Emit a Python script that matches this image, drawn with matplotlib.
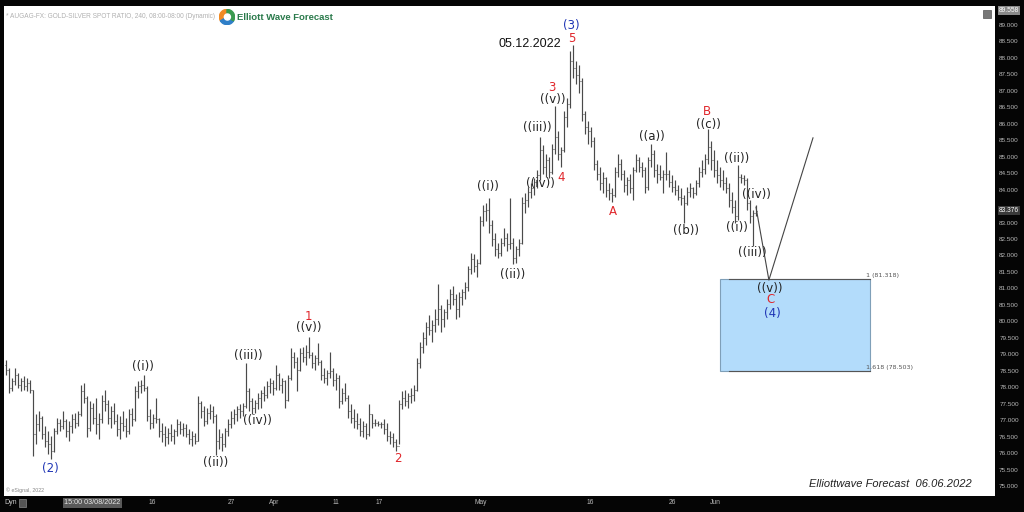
import matplotlib
matplotlib.use("Agg")
import matplotlib.pyplot as plt
from matplotlib.patches import Rectangle, Wedge
import matplotlib.transforms as mtrans

# ---------------- data: 4h bars as (high, low, close) ----------------
first_open = 78.70
wave2_bars = [
    (78.85, 78.40, 78.55), (78.60, 77.85, 78.00), (78.30, 77.90, 78.20), (78.60, 78.10, 78.40),
    (78.45, 78.00, 78.10), (78.30, 77.90, 78.20), (78.35, 77.95, 78.05), (78.30, 77.90, 78.15),
    (78.25, 77.85, 77.95), (77.95, 75.95, 76.60), (77.20, 76.30, 76.90), (77.30, 76.70, 77.10),
    (77.15, 76.45, 76.60), (76.85, 76.20, 76.40), (76.70, 76.00, 76.30), (76.55, 75.85, 76.10),
]
wave_i_bars = [
    (76.80, 76.05, 76.70), (77.10, 76.60, 76.95), (77.05, 76.70, 76.85), (77.30, 76.75, 77.00),
    (77.05, 76.50, 76.70), (77.00, 76.40, 76.85), (77.20, 76.65, 77.05), (77.25, 76.80, 76.95),
    (77.30, 76.85, 77.20), (78.10, 77.15, 77.90), (78.15, 77.55, 77.70), (77.75, 76.50, 76.80),
    (77.60, 76.70, 77.40), (77.55, 76.90, 77.10), (77.70, 76.60, 76.90), (77.25, 76.45, 77.05),
    (77.80, 76.95, 77.60), (77.95, 77.30, 77.50), (77.65, 76.90, 77.10), (77.45, 76.80, 77.30),
    (77.55, 76.90, 77.00), (77.20, 76.55, 76.75), (77.15, 76.45, 76.95), (77.30, 76.70, 76.85),
    (77.10, 76.50, 76.70), (77.35, 76.60, 77.20), (77.40, 76.85, 77.05), (78.05, 77.00, 77.90),
    (78.20, 77.70, 78.05), (78.25, 77.85, 78.10), (78.40, 77.90, 78.00),
]
wave_ii_bars = [
    (78.05, 77.00, 77.15), (77.35, 76.75, 76.95), (77.20, 76.80, 77.10), (77.70, 76.95, 77.05),
    (77.10, 76.50, 76.70), (76.95, 76.35, 76.60), (76.85, 76.25, 76.50), (76.80, 76.30, 76.65),
    (76.90, 76.40, 76.55), (76.75, 76.30, 76.70), (77.05, 76.55, 76.90), (77.00, 76.60, 76.75),
    (76.95, 76.55, 76.80), (76.90, 76.50, 76.60), (76.75, 76.30, 76.45), (76.70, 76.25, 76.55),
    (76.65, 76.30, 76.40), (77.75, 76.40, 77.55), (77.60, 77.10, 77.30), (77.45, 76.85, 77.00),
    (77.40, 76.90, 77.25), (77.50, 77.05, 77.30), (77.45, 76.95, 77.15), (77.20, 75.98, 76.40),
]
wave_iii_v_bars = [
    (76.75, 76.15, 76.50), (76.65, 76.10, 76.30), (76.80, 76.20, 76.70), (77.05, 76.55, 76.90),
    (77.30, 76.80, 77.10), (77.35, 76.90, 77.20), (77.45, 77.00, 77.35), (77.50, 77.10, 77.30),
    (77.55, 77.15, 77.45), (78.75, 77.40, 77.90), (78.00, 77.30, 77.60), (77.70, 77.20, 77.40),
    (77.65, 77.25, 77.55), (77.85, 77.35, 77.70), (77.95, 77.40, 77.85), (78.05, 77.60, 77.80),
    (78.20, 77.70, 78.05), (78.30, 77.85, 78.15), (78.25, 77.80, 78.00), (78.70, 77.95, 78.40),
    (78.45, 77.95, 78.10), (78.30, 77.85, 78.20), (78.25, 77.40, 77.65), (78.40, 77.60, 78.30),
    (79.20, 78.25, 78.95), (79.10, 78.60, 78.80), (78.95, 77.90, 78.55), (79.20, 78.50, 79.05),
    (79.25, 78.80, 78.95), (79.30, 78.70, 79.10), (79.55, 78.90, 79.00),
]
wave_two_bars = [
    (79.10, 78.60, 78.75), (79.00, 78.55, 78.90), (79.35, 78.70, 78.80), (78.85, 78.25, 78.40),
    (78.60, 78.15, 78.30), (78.55, 78.10, 78.45), (79.10, 78.30, 78.50), (78.60, 78.05, 78.25),
    (78.45, 77.95, 78.30), (78.40, 77.40, 77.60), (78.00, 77.50, 77.85), (78.15, 77.60, 77.70),
    (77.80, 77.10, 77.30), (77.50, 76.95, 77.10), (77.35, 76.80, 77.00), (77.25, 76.75, 76.90),
    (77.10, 76.55, 76.70), (77.00, 76.50, 76.85), (76.95, 76.45, 76.60), (77.50, 76.55, 77.20),
    (77.20, 76.80, 76.95), (77.05, 76.85, 76.95), (77.00, 76.85, 76.92), (76.98, 76.80, 76.90),
    (77.05, 76.60, 76.75), (76.95, 76.40, 76.55), (76.70, 76.30, 76.50), (76.65, 76.20, 76.35),
    (76.45, 76.10, 76.25),
]
wave_three_bars = [
    (77.65, 76.30, 77.50), (77.90, 77.35, 77.70), (77.95, 77.45, 77.60), (77.85, 77.40, 77.75),
    (78.00, 77.55, 77.80), (78.10, 77.60, 77.95), (78.90, 77.90, 78.75), (79.40, 78.60, 79.25),
    (79.70, 79.05, 79.50), (80.00, 79.30, 79.85), (80.20, 79.60, 79.75), (80.05, 79.40, 79.90),
    (80.40, 79.70, 80.10), (81.15, 79.90, 80.40), (80.50, 79.70, 80.10), (80.40, 79.85, 80.30),
    (80.70, 80.10, 80.55), (81.00, 80.40, 80.85), (81.10, 80.50, 80.70), (80.85, 80.10, 80.40),
    (80.90, 80.15, 80.75), (81.00, 80.50, 80.90), (81.20, 80.70, 81.05), (81.70, 80.95, 81.60),
    (82.10, 81.45, 81.90), (82.05, 81.50, 81.70), (81.90, 81.35, 81.80), (83.20, 81.75, 83.05),
    (83.55, 82.90, 83.35), (83.60, 83.05, 83.40), (83.75, 82.70, 82.95), (83.10, 82.30, 82.50),
    (82.70, 82.00, 82.20), (82.40, 81.95, 82.10), (82.55, 82.00, 82.40), (82.85, 82.30, 82.55),
    (82.70, 82.15, 82.35), (83.75, 82.20, 82.40), (82.55, 81.75, 81.95), (82.30, 81.80, 82.20),
    (82.50, 82.00, 82.40), (83.80, 82.35, 83.60), (83.90, 83.30, 83.70), (84.10, 83.50, 83.95),
    (84.20, 83.75, 84.05), (84.35, 83.85, 84.25), (84.60, 84.05, 84.45), (85.60, 84.30, 85.20),
    (85.35, 84.50, 84.70), (85.10, 84.40, 84.90), (85.00, 84.35, 84.55), (85.40, 84.50, 85.25),
    (86.55, 85.10, 85.60), (85.80, 84.90, 85.10), (85.30, 84.70, 85.20), (86.40, 85.15, 86.20),
    (86.80, 85.90, 86.60), (88.20, 86.50, 87.90), (88.40, 87.40, 87.70),
]
wave_four_bars = [
    (87.90, 87.20, 87.50), (87.80, 86.95, 87.30), (87.40, 86.10, 86.30), (86.40, 85.70, 85.90),
    (86.10, 85.40, 85.80), (85.90, 85.30, 85.50), (85.60, 84.60, 84.80), (84.90, 84.30, 84.50),
    (84.70, 84.00, 84.20), (84.55, 83.90, 84.35), (84.40, 83.80, 84.00), (84.20, 83.70, 83.90),
    (84.05, 83.65, 83.85), (84.70, 83.80, 84.55), (85.10, 84.40, 84.80), (84.95, 84.30, 84.50),
    (84.60, 83.95, 84.15), (84.40, 83.85, 84.30), (84.50, 83.90, 84.05), (84.70, 83.70, 84.60),
    (85.10, 84.55, 84.90), (85.00, 84.55, 84.70), (84.85, 84.40, 84.60), (84.70, 83.90, 84.10),
    (85.00, 84.00, 84.90), (85.40, 84.70, 85.10), (85.20, 84.40, 84.60), (84.80, 84.20, 84.50),
    (84.75, 84.30, 84.40), (84.60, 83.90, 84.50), (85.15, 84.30, 84.50), (84.60, 84.10, 84.25),
    (84.45, 83.95, 84.10), (84.30, 83.85, 84.00), (84.15, 83.70, 83.80), (84.05, 83.55, 83.75),
    (83.85, 83.00, 83.60), (84.10, 83.55, 83.95), (84.20, 83.80, 84.05), (84.10, 83.75, 83.90),
    (84.30, 83.85, 84.20), (84.70, 84.10, 84.55), (84.90, 84.40, 84.65), (85.10, 84.50, 84.95),
    (85.85, 84.80, 85.30), (85.50, 84.60, 84.90), (85.20, 84.40, 84.60), (84.90, 84.20, 84.45),
    (84.70, 84.10, 84.30), (84.60, 84.00, 84.20), (84.40, 83.90, 84.05), (84.20, 83.50, 83.70),
    (83.95, 83.30, 83.50), (83.70, 83.00, 83.20), (84.75, 83.10, 84.40), (84.50, 84.20, 84.35),
    (84.45, 84.15, 84.30), (84.35, 83.40, 83.60), (83.70, 83.00, 83.20), (83.40, 82.30, 83.30),
    (83.55, 83.20, 83.376),
]

# projected path of the last leg (bar index, price)
proj_x = [250, 254.3, 269]
proj_y = [83.48, 81.27, 85.58]

# target zone (Fibonacci extension)
zone_top = 81.318
zone_bottom = 78.503
zone_x0, zone_x1 = 238, 288

# time axis labels (bar index, text)
time_tick_pos = [48.7, 75, 89.3, 110, 124.3, 158.3, 194.7, 222.3, 236.3]
time_tick_labels = ["16", "27", "Apr", "11", "17", "May", "16", "26", "Jun"]

# price axis
price_ticks = [75 + 0.5 * k for k in range(29)]
last_price = 83.376
top_price = 89.558

# wave labels: (text, bar index, price, colour)
RED, BLUE, BLK = "#e0262b", "#1f35b5", "#222222"
wave_labels = [
    ("(3)", 188.3, 89.00, BLUE), ("5", 188.7, 88.58, RED), ("3", 182.0, 87.12, RED),
    ("((v))", 182.3, 86.73, BLK), ("((iii))", 177.0, 85.88, BLK), ("((iv))", 178.0, 84.21, BLK),
    ("4", 185.0, 84.39, RED), ("((i))", 160.7, 84.12, BLK), ("((ii))", 169.0, 81.45, BLK),
    ("1", 100.7, 80.18, RED), ("((v))", 101.0, 79.82, BLK), ("((iii))", 80.7, 78.97, BLK),
    ("((iv))", 83.7, 77.03, BLK), ("((i))", 45.7, 78.64, BLK), ("((ii))", 70.0, 75.73, BLK),
    ("(2)", 14.7, 75.55, BLUE), ("2", 130.7, 75.85, RED), ("A", 202.3, 83.36, RED),
    ("((a))", 215.3, 85.61, BLK), ("((b))", 226.7, 82.76, BLK), ("B", 233.7, 86.39, RED),
    ("((c))", 234.3, 86.00, BLK), ("((ii))", 243.7, 84.94, BLK), ("((i))", 243.7, 82.85, BLK),
    ("((iv))", 250.3, 83.85, BLK), ("((iii))", 248.7, 82.12, BLK), ("((v))", 254.7, 81.03, BLK),
    ("C", 254.7, 80.67, RED), ("(4)", 255.3, 80.27, BLUE),
]

# ---------------- build bars ----------------
bars = (wave2_bars + wave_i_bars + wave_ii_bars + wave_iii_v_bars + wave_two_bars
        + wave_three_bars + wave_four_bars)
highs = [b[0] for b in bars]
lows = [b[1] for b in bars]
closes = [b[2] for b in bars]
opens = [first_open] + closes[:-1]
xs = list(range(len(bars)))

# ---------------- figure ----------------
W, H = 1024, 512
fig = plt.figure(figsize=(W / 100, H / 100), dpi=100, facecolor="#050505")
ax = fig.add_axes([4 / W, 16 / H, (995 - 4) / W, (506 - 16) / H])
ax.set_facecolor("white")
ax.set_xlim(-0.667, 329.67)
ax.set_ylim(74.727, 89.576)
for s in ax.spines.values():
    s.set_visible(False)
ax.set_xticks([])
ax.set_yticks([])

bar_col = "#4a4a4a"
ax.vlines(xs, lows, highs, color=bar_col, lw=0.85)
ax.hlines(opens, [x - 0.45 for x in xs], xs, color=bar_col, lw=0.75)
ax.hlines(closes, xs, [x + 0.45 for x in xs], color=bar_col, lw=0.75)

# projection
ax.plot(proj_x, proj_y, color="#444444", lw=0.8)

# zone box
ax.add_patch(Rectangle((zone_x0, zone_bottom), zone_x1 - zone_x0, zone_top - zone_bottom,
                       facecolor="#b3dcfb", edgecolor="#7f9fb8", lw=0.8, zorder=0.5))
ax.plot([zone_x0 + 3, zone_x1], [zone_top, zone_top], color="#555555", lw=0.8, zorder=0.6)
ax.plot([zone_x0 + 3, zone_x1], [zone_bottom, zone_bottom], color="#555555", lw=0.8, zorder=0.6)
ax.text(zone_x1 - 1.3, zone_top + 0.03, "1 (81.318)", fontsize=4.6, color="#555555",
        ha="left", va="bottom", family="DejaVu Sans")
ax.text(zone_x1 - 1.3, zone_bottom + 0.03, "1.618 (78.503)", fontsize=4.6, color="#555555",
        ha="left", va="bottom", family="DejaVu Sans")

# wave labels
for txt, xi, py, col in wave_labels:
    ax.text(xi, py, txt, color=col, fontsize=8.5, ha="center", va="center",
            family="DejaVu Sans")

ax.text(174.7, 88.42, "05.12.2022", fontsize=9, color="#111111", ha="center", va="center",
        family="Liberation Sans")

# header texts
ax.text(0.002, 0.985, "* AUGAG-FX: GOLD-SILVER SPOT RATIO, 240, 08:00-08:00 (Dynamic)",
        transform=ax.transAxes, fontsize=4.7, color="#b0b0b0", ha="left", va="top",
        family="Liberation Sans")
ax.text(0.002, 0.006, "\u00a9 eSignal, 2022", transform=ax.transAxes, fontsize=3.8,
        color="#888888", ha="left", va="bottom", family="Liberation Sans")

# logo
logo_ax = fig.add_axes([(227 - 8) / W, 1 - (17 + 8) / H, 16 / W, 16 / H])
logo_ax.set_xlim(-1, 1)
logo_ax.set_ylim(-1, 1)
logo_ax.axis("off")
logo_ax.add_patch(Wedge((0, 0), 0.95, 90, 210, color="#f08a24"))
logo_ax.add_patch(Wedge((0, 0), 0.95, 210, 330, color="#2f7fc8"))
logo_ax.add_patch(Wedge((0, 0), 0.95, 330, 450, color="#3a9a4f"))
logo_ax.add_patch(plt.Circle((0.05, 0), 0.38, color="white"))
fig.text(237 / W, 1 - 17 / H, "Elliott Wave Forecast", fontsize=6.8, fontweight="bold",
         color="#2a7a4b", ha="left", va="center", family="Liberation Sans")

fig.text(972 / W, 1 - 484 / H, "Elliottwave Forecast  06.06.2022", fontsize=8,
         style="italic", color="#222222", ha="right", va="center", family="Liberation Sans")

# small icon top right
fig.patches.append(Rectangle((983 / W, 1 - 18 / H), 8 / W, 8 / H, transform=fig.transFigure,
                             facecolor="#777777", edgecolor="#555555", lw=0.5))

# right price axis
tr_y = mtrans.blended_transform_factory(fig.transFigure, ax.transData)
for p in price_ticks:
    if abs(p - 83.5) < 1e-6:
        continue
    fig.text(1009 / W, p, f"{p:.3f}", transform=tr_y, fontsize=4.6, color="#b8b8b8",
             ha="center", va="center", family="Liberation Sans")
fig.text(1009 / W, last_price, f"{last_price:.3f}", transform=tr_y, fontsize=4.8,
         color="#ffffff", ha="center", va="center", family="Liberation Sans",
         bbox=dict(boxstyle="square,pad=0.15", facecolor="#3a3a3a", edgecolor="none"))
fig.text(1009 / W, top_price - 0.12, f"{top_price:.3f}", transform=tr_y, fontsize=4.8,
         color="#ffffff", ha="center", va="center", family="Liberation Sans",
         bbox=dict(boxstyle="square,pad=0.15", facecolor="#8a8a8a", edgecolor="none"))

# bottom time axis
tr_x = mtrans.blended_transform_factory(ax.transData, fig.transFigure)
for pos, lab in zip(time_tick_pos, time_tick_labels):
    fig.text(pos, 1 - 503 / H, lab, transform=tr_x, fontsize=4.8, color="#bbbbbb",
             ha="center", va="center", family="Liberation Sans")
fig.text(28.8, 1 - 503 / H, "15:00 03/08/2022", transform=tr_x, fontsize=5.2,
         color="#e8e8e8", ha="center", va="center", family="Liberation Sans",
         bbox=dict(boxstyle="square,pad=0.2", facecolor="#5a5a5a", edgecolor="none"))
fig.text(4 / W, 1 - 503 / H, "Dyn", fontsize=5, color="#cccccc", ha="left", va="center",
         family="Liberation Sans")
fig.patches.append(Rectangle((19 / W, 1 - 507 / H), 7 / W, 8 / H, transform=fig.transFigure,
                             facecolor="#555555", edgecolor="#888888", lw=0.5))

fig.savefig("out.png", dpi=100, facecolor=fig.get_facecolor())
